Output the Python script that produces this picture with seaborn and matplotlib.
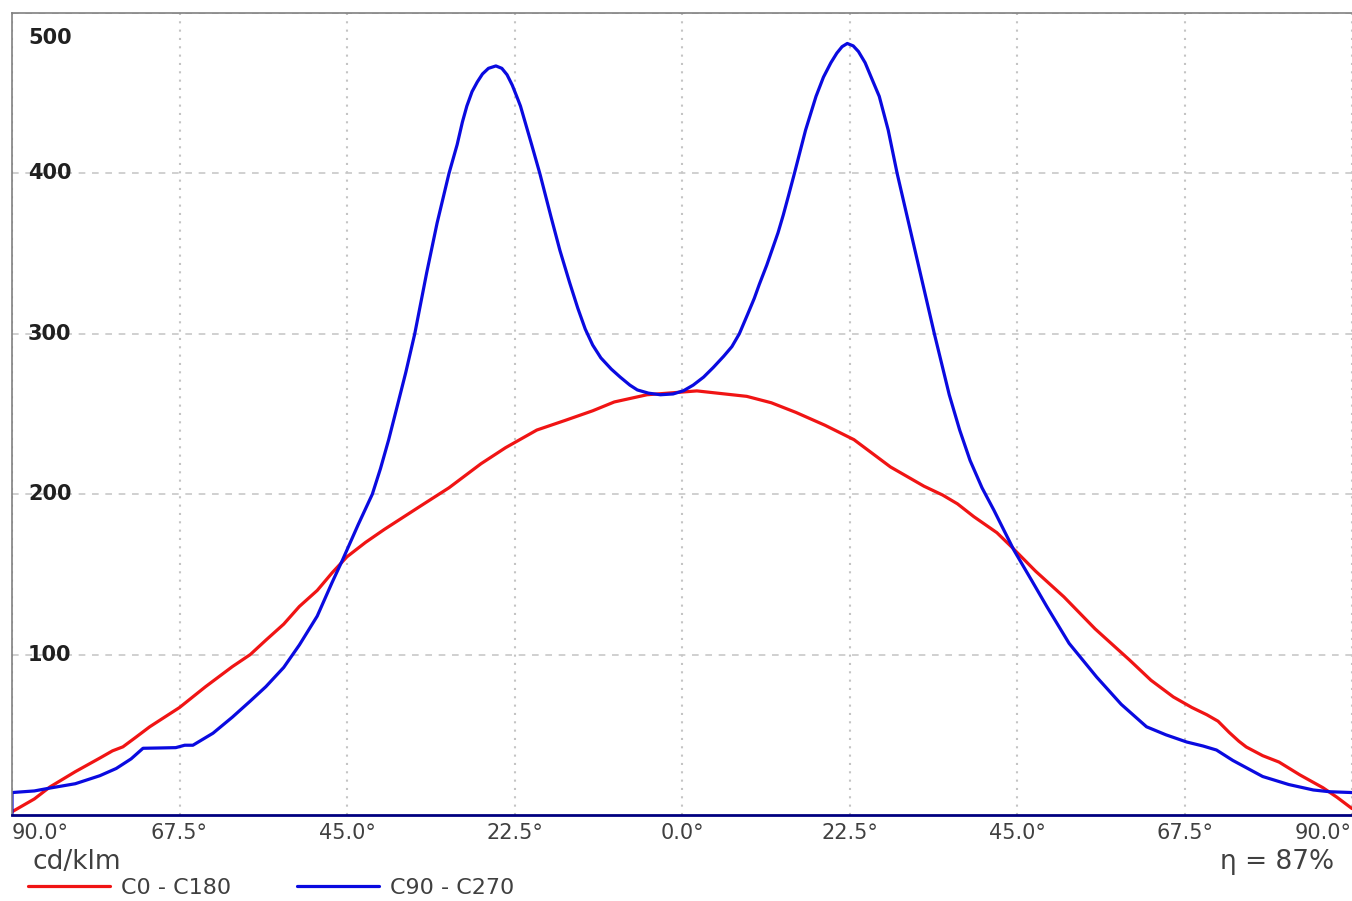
import pandas as pd
import matplotlib
matplotlib.use("Agg")
import matplotlib.pyplot as plt
import seaborn as sns

# C0 - C180 plane
c0_deg = [-90, -87, -84.9, -81.5, -78.2, -76.5, -75.1, -73.5, -71.5, -69.5, -67.5, -64, -60.4, -58, -55.9,
          -53.5, -51.4, -49, -47, -45, -42.5, -40, -38, -35, -31.3, -27, -23.7, -19.5, -15.7, -12, -9.1,
          -4.7, 2.0, 8.7, 12, 15.3, 19.2, 23.1, 28, 32.5, 35, 37, 39.2, 42.3, 44.3, 47.5, 51.3, 55.5, 60.1,
          63, 66, 68.5, 70.5, 72, 73.5, 74.8, 75.8, 78, 80.2, 83, 86.1, 88, 90]
c0_val = [2, 10, 17.5, 27, 35.5, 40, 42.5, 48, 55, 61, 67, 80, 92.5, 100, 109,
          119, 130, 140, 151, 161, 170, 178, 184, 193, 204, 219, 229, 240, 246, 252, 257.5,
          262, 264.4, 261, 257, 251, 243, 234, 217, 205, 199.5, 194, 186, 176, 167, 152, 136, 116, 96.7,
          84, 73.6, 67, 62.5, 58.5, 51.5, 46, 42.4, 37, 33, 25, 17, 11, 4]

# C90 - C270 plane
c90_deg = [-90, -90, -87, -84.9, -81.5, -78.2, -76, -74, -72.4, -70, -68, -66.8, -65.7, -63, -60.4,
           -58, -55.9, -53.5, -51.4, -49, -47, -45.6, -43.5, -41.6, -40.5, -39.4, -38.3, -37.1, -35.9,
           -34.3, -32.9, -31.3, -30.2, -29.5, -28.9, -28.2, -27.5, -26.8, -26.0, -25.0, -24.2, -23.5,
           -22.8, -22.2, -21.7, -20.2, -19.1, -17.6, -16.4, -15.1, -14.0, -13.0, -12.0, -10.9, -9.5,
           -8.3, -7.0, -6.0, -4.5, -2.9, -1.2, 0.2, 1.5, 2.9, 4.2, 5.6, 6.7, 7.7, 8.8, 9.7, 10.4, 11.4,
           12.3, 12.9, 13.6, 14.3, 15.1, 16.6, 18.0, 19.0, 20.0, 20.8, 21.5, 22.2, 23.0, 23.7, 24.6,
           25.5, 26.5, 27.7, 28.9, 30.5, 32.3, 33.9, 35.9, 37.3, 38.7, 40.3, 41.9, 43.3, 44.6, 47, 49,
           52, 55.7, 59, 62.4, 65, 67.8, 70, 71.8, 74, 76, 78, 81.5, 84.8, 87, 90]
c90_val = [0, 14, 15, 16.8, 19.5, 24.5, 29, 35, 41.6, 41.8, 42, 43.5, 43.5, 51, 61,
           71, 80, 92, 106, 124, 145, 159, 181, 200, 216, 234, 254, 276, 300,
           338, 369, 400, 418, 432, 442, 451, 457, 462, 465.5, 467, 465.5, 461.5,
           455, 448, 442, 418, 400, 373, 352, 332, 316, 303, 293, 285, 278,
           273, 268, 265, 263, 262, 262.5, 264.5, 268, 273, 279, 286, 292, 300, 312, 322, 331, 343,
           355, 363, 374, 386, 400, 427, 448, 460, 469, 475, 479, 481, 479.5, 476, 469,
           459, 448, 427, 400, 368, 332, 300, 262, 240, 221, 204, 190, 177, 165, 146, 130,
           107, 86, 69, 55, 50, 45.5, 43, 40.5, 34, 29, 24, 19, 15.6, 14.5, 14]

series_names = ["C0 - C180", "C90 - C270"]
series_colors = {"C0 - C180": "#f01414", "C90 - C270": "#0a0ae0"}

xtick_vals = [-90, -67.5, -45, -22.5, 0, 22.5, 45, 67.5, 90]
xtick_labels = [f"{abs(v):.1f}°" for v in xtick_vals]
ytick_vals = [100, 200, 300, 400, 500]

df = pd.concat([
    pd.DataFrame({"angle": c0_deg, "cd": c0_val, "plane": series_names[0]}),
    pd.DataFrame({"angle": c90_deg, "cd": c90_val, "plane": series_names[1]}),
], ignore_index=True)

sns.set_style("white")
plt.rcParams["font.family"] = ["DejaVu Sans"]

fig = plt.figure(figsize=(13.52, 9.01), dpi=100)
ax = fig.add_axes([12 / 1352, 86 / 901, 1340 / 1352, 802 / 901])

sns.lineplot(data=df, x="angle", y="cd", hue="plane", palette=series_colors,
             estimator=None, sort=False, linewidth=2.3, ax=ax, legend=True)
for ln in ax.lines:
    ln.set_solid_joinstyle("round")

ax.set_xlim(-90, 90)
ax.set_ylim(0, 500)
ax.set_xticks(xtick_vals)
ax.set_xticklabels(xtick_labels, fontsize=15, color="#404040")
ax.set_yticks(ytick_vals)
ax.set_yticklabels([])
ax.tick_params(axis="both", length=0)
ax.tick_params(axis="x", pad=6)
labs = ax.get_xticklabels()
labs[0].set_ha("left")
labs[-1].set_ha("right")
ax.set_xlabel("")
ax.set_ylabel("")

ax.grid(axis="x", linestyle=(0, (1, 3)), color="#c4c4c4", linewidth=1.5)
ax.grid(axis="y", linestyle=(0, (4, 4)), color="#c8c8c8", linewidth=1.2)
ax.set_axisbelow(True)

for s in ["left", "top"]:
    ax.spines[s].set_color("#808080")
    ax.spines[s].set_linewidth(1.2)
ax.spines["right"].set_visible(False)
ax.spines["bottom"].set_color("#000080")
ax.spines["bottom"].set_linewidth(2)

# value labels inside the plot area
for v in ytick_vals:
    dy = -18 if v == ytick_vals[-1] else 0
    ax.annotate(str(v), xy=(0, v), xycoords=("axes fraction", "data"),
                xytext=(11.5, dy), textcoords="offset points",
                ha="left", va="center", fontsize=15, fontweight="bold", color="#202020")

fig.text(33 / 1352, 1 - 862 / 901, "cd/klm", fontsize=19, color="#404040", ha="left", va="center")
fig.text(1334 / 1352, 1 - 862 / 901, "η = 87%", fontsize=19, color="#404040", ha="right", va="center")

handles, labels = ax.get_legend_handles_labels()
ax.legend(handles, labels, loc="center left", bbox_to_anchor=(28 / 1352, 1 - 888 / 901),
          bbox_transform=fig.transFigure, ncol=2, frameon=False, fontsize=16,
          handlelength=3.7, handletextpad=0.5, columnspacing=2.95, labelcolor="#404040",
          borderaxespad=0, borderpad=0)

fig.savefig("out.png", dpi=100)
